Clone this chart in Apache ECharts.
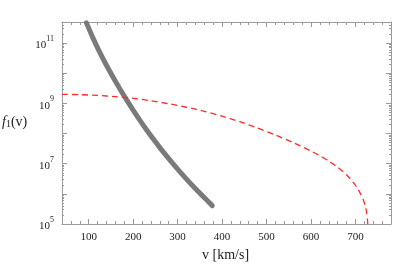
<!DOCTYPE html>
<html><head><meta charset="utf-8">
<script src="https://cdn.jsdelivr.net/npm/echarts@6/dist/echarts.min.js"></script>
<style>html,body{margin:0;padding:0;background:#fff}#c{width:407px;height:266px}</style>
</head><body><div id="c"></div>
<script>
// Gray curve (thick solid)
const grayV = [95, 110, 125, 140, 155, 170, 185, 200, 215, 230, 245, 260, 275, 290, 305, 320, 335, 350, 365, 378];
const grayF = [4.68e11, 1.435e11, 4.95e10, 1.845e10, 7.36e9, 3.07e9, 1.337e9, 6.0e8, 2.79e8, 1.34e8, 6.67e7, 3.42e7, 1.807e7, 9.8e6, 5.45e6, 3.09e6, 1.786e6, 1.057e6, 6.32e5, 4.07e5];
// Red dashed curve
const redV = [40, 80, 120, 160, 200, 240, 280, 320, 360, 400, 440, 480, 520, 560, 600, 620, 640, 660, 680, 695, 705, 712, 718, 722, 725, 727, 729, 730.5];
const redF = [2.0e9, 1.94e9, 1.837e9, 1.675e9, 1.472e9, 1.225e9, 9.73e8, 7.45e8, 5.45e8, 3.77e8, 2.47e8, 1.528e8, 8.95e7, 5.01e7, 2.63e7, 1.837e7, 1.225e7, 7.62e6, 4.29e6, 2.42e6, 1.493e6, 9.66e5, 6.12e5, 4.05e5, 2.49e5, 1.44e5, 4.0e4, 3.2e3];
// Tick labels
const xTickLabels = [100, 200, 300, 400, 500, 600, 700];
const yLabelExps = [5, 7, 9, 11];

const xMin = 40, xMax = 780, yMin = 1e5, yMax = 5e11;
const frameColor = '#9a9a9a';
const serif = '"Liberation Serif","DejaVu Serif",serif';

const yMinor = [];
for (let e = 5; e <= 11; e++) for (let m = 2; m <= 9; m++) { const v = m * Math.pow(10, e); if (v <= yMax) yMinor.push(v); }

function xAx(pos, labels, tickVals, len, showLine) {
  return {
    type: 'value', position: pos, min: xMin, max: xMax, interval: 20,
    axisLine: { show: showLine, lineStyle: { color: frameColor, width: 1 } },
    axisTick: tickVals ? { show: true, inside: true, length: len, customValues: tickVals, lineStyle: { color: frameColor } }
                       : { show: true, inside: true, length: len, lineStyle: { color: frameColor } },
    axisLabel: labels ? { show: true, customValues: xTickLabels, fontFamily: serif, fontSize: 11, color: '#222', margin: 8 } : { show: false },
    splitLine: { show: false }
  };
}
function yAx(pos, labels, tickVals, len, showLine) {
  const a = {
    type: 'log', logBase: 10, position: pos, min: yMin, max: yMax,
    axisLine: { show: showLine, lineStyle: { color: frameColor, width: 1 } },
    axisTick: { show: true, inside: true, length: len, lineStyle: { color: frameColor } },
    axisLabel: { show: false },
    splitLine: { show: false }
  };
  if (tickVals) a.axisTick.customValues = tickVals;
  else a.interval = 1;
  if (labels) {
    a.axisLabel = {
      show: true, showMaxLabel: false, margin: 8, fontFamily: serif, color: '#222',
      formatter: function (v) {
        const e = Math.round(Math.log10(v));
        if (yLabelExps.indexOf(e) < 0) return '';
        return '{b|10}{s|' + e + '}';
      },
      rich: {
        b: { fontFamily: serif, fontSize: 11, color: '#222', lineHeight: 16, verticalAlign: 'bottom' },
        s: { fontFamily: serif, fontSize: 8, color: '#222', lineHeight: 16, verticalAlign: 'top' }
      }
    };
  }
  return a;
}

const chart = echarts.init(document.getElementById('c'), null, { renderer: 'canvas' });
chart.setOption({
  animation: false,
  backgroundColor: '#fff',
  grid: { left: 62, right: 16, top: 22, bottom: 42 },
  xAxis: [
    xAx('bottom', true, null, 3, true),
    xAx('top', false, null, 3, true),
    xAx('bottom', false, xTickLabels, 5, false),
    xAx('top', false, xTickLabels, 5, false)
  ],
  yAxis: [
    yAx('left', true, null, 5, true),
    yAx('right', false, null, 5, true),
    yAx('left', false, yMinor, 2, false),
    yAx('right', false, yMinor, 2, false)
  ],
  graphic: [
    { type: 'text', left: 202, top: 248, style: { text: 'v [km/s]', font: '14px ' + serif, fill: '#222' } },
    { type: 'text', left: 2, top: 115, style: {
        text: '{i|f}{sub|1}{n|(v)}',
        rich: {
          i: { fontFamily: serif, fontStyle: 'italic', fontSize: 14, fill: '#222', verticalAlign: 'bottom', lineHeight: 18 },
          sub: { fontFamily: serif, fontSize: 10, fill: '#222', verticalAlign: 'bottom', lineHeight: 15 },
          n: { fontFamily: serif, fontSize: 14, fill: '#222', verticalAlign: 'bottom', lineHeight: 18 }
        }
    } }
  ],
  series: [
    {
      type: 'line', xAxisIndex: 0, yAxisIndex: 0, showSymbol: false, smooth: 0.25, clip: true,
      data: redV.map((v, i) => [v, redF[i]]),
      lineStyle: { color: '#ff2a2a', width: 1.3, type: [6, 4] }, z: 3
    },
    {
      type: 'line', xAxisIndex: 0, yAxisIndex: 0, showSymbol: false, smooth: 0.25, clip: true,
      data: grayV.map((v, i) => [v, grayF[i]]),
      lineStyle: { color: '#7a7a7a', width: 5, cap: 'round' }, z: 2
    }
  ]
});
</script></body></html>
